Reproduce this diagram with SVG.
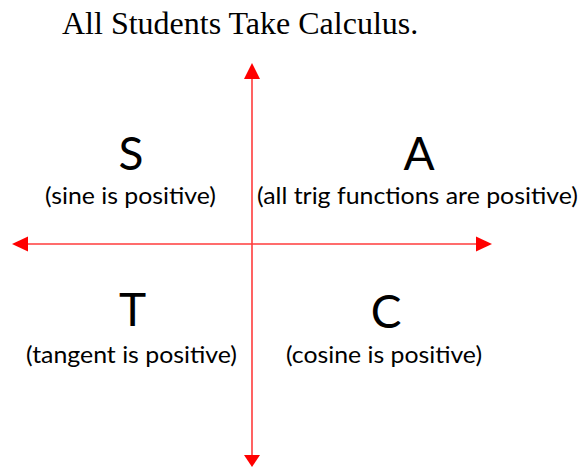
<svg xmlns="http://www.w3.org/2000/svg" width="582" height="468" viewBox="0 0 582 468">
  <style>
    .title { font-family: "Liberation Serif", "Times New Roman", serif; font-size: 32px; fill: #000; }
    .big { font-family: Lato, "Noto Sans", sans-serif; font-size: 46px; fill: #000; text-anchor: middle; }
    .sub { font-family: Lato, "Noto Sans", sans-serif; font-size: 23px; fill: #000; text-anchor: middle; }
    .axis { stroke: #ff3b3b; stroke-width: 1.6; fill: none; }
    .head { fill: #ff0000; }
  </style>
  <rect width="582" height="468" fill="#ffffff"/>
  <text class="title" x="62" y="34">All Students Take Calculus.</text>
  <g id="connectors">
    <line class="axis" x1="252" y1="76" x2="252" y2="457"/>
    <polygon class="head" points="252,63 244,79 260,79"/>
    <polygon class="head" points="252,467 244,455 260,455"/>
    <line class="axis" x1="25" y1="244" x2="478" y2="244"/>
    <polygon class="head" points="12,244 28,236.5 28,251.5"/>
    <polygon class="head" points="492,244 476,236.5 476,251.5"/>
  </g>
  <g id="quadrant-S">
    <text class="big" x="131" y="170">S</text>
    <text class="sub" x="130.5" y="204" textLength="171" lengthAdjust="spacingAndGlyphs">(sine is positive)</text>
  </g>
  <g id="quadrant-A">
    <text class="big" x="419" y="170">A</text>
    <text class="sub" x="417.5" y="204" textLength="321" lengthAdjust="spacingAndGlyphs">(all trig functions are positive)</text>
  </g>
  <g id="quadrant-T">
    <text class="big" x="132.5" y="326">T</text>
    <text class="sub" x="131.5" y="363" textLength="211" lengthAdjust="spacingAndGlyphs">(tangent is positive)</text>
  </g>
  <g id="quadrant-C">
    <text class="big" x="386" y="328">C</text>
    <text class="sub" x="384" y="363" textLength="196" lengthAdjust="spacingAndGlyphs">(cosine is positive)</text>
  </g>
</svg>
